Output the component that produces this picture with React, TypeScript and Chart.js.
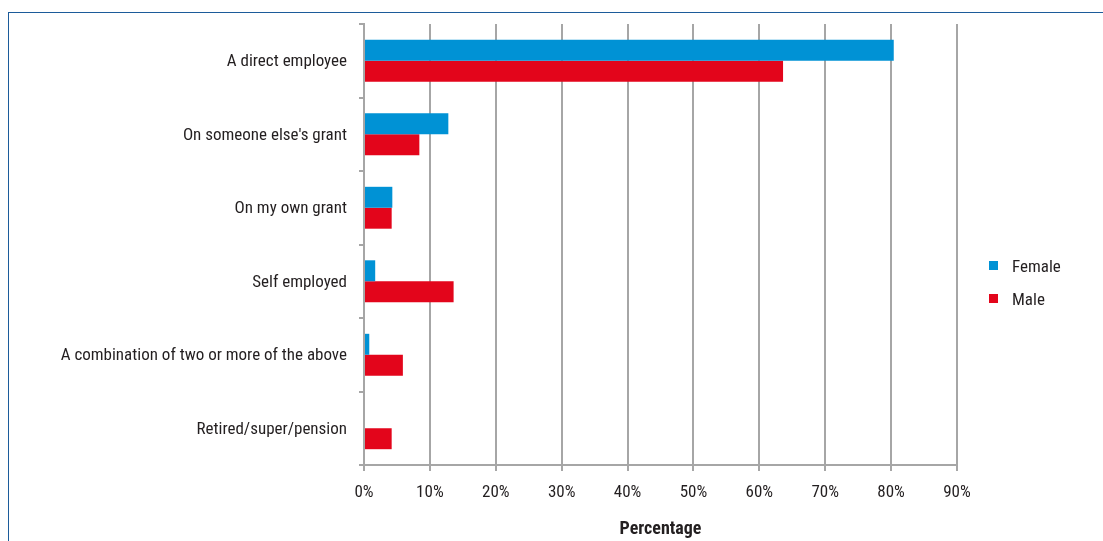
import React, { useEffect, useRef } from "react";
import { Chart, registerables } from "chart.js";

Chart.register(...registerables);

const categories = [
  "A direct employee",
  "On someone else's grant",
  "On my own grant",
  "Self employed",
  "A combination of two or more of the above",
  "Retired/super/pension",
];
const femaleValues = [80.4, 12.8, 4.3, 1.7, 0.8, 0];
const maleValues = [63.6, 8.4, 4.2, 13.6, 5.9, 4.2];
const seriesNames = ["Female", "Male"];
const seriesColors = ["#0092d5", "#e3051b"];
const xTickMax = 90;
const xTickStep = 10;
const xTitle = "Percentage";

const FONT = "'Liberation Sans Narrow', 'Roboto Condensed', 'DejaVu Sans Condensed', sans-serif";
const TEXT = "#231f20";
const GRID = "#a6a6a6";

export default function App() {
  const ref = useRef<HTMLCanvasElement | null>(null);
  useEffect(() => {
    if (!ref.current) return;
    const chart = new Chart(ref.current, {
      type: "bar",
      data: {
        labels: categories,
        datasets: [
          { label: seriesNames[0], data: femaleValues, backgroundColor: seriesColors[0], barPercentage: 1, categoryPercentage: 0.57 },
          { label: seriesNames[1], data: maleValues, backgroundColor: seriesColors[1], barPercentage: 1, categoryPercentage: 0.57 },
        ],
      },
      options: {
        indexAxis: "y",
        responsive: false,
        animation: false,
        devicePixelRatio: 1,
        layout: { padding: { top: 24, right: 146, left: 0, bottom: 0 } },
        plugins: { legend: { display: false }, tooltip: { enabled: false } },
        scales: {
          x: {
            min: 0,
            max: xTickMax,
            afterFit: (s: any) => { s.height = 76; },
            ticks: {
              stepSize: xTickStep,
              callback: (v: any) => v + "%",
              color: TEXT,
              font: { family: FONT, size: 17 },
              padding: 12,
              maxRotation: 0,
            },
            grid: { color: GRID, lineWidth: 2, tickLength: 6, drawTicks: true },
            border: { color: GRID, width: 2 },
            title: {
              display: true,
              text: xTitle,
              color: TEXT,
              font: { family: FONT, size: 18, weight: "bold" },
              padding: { top: 0, bottom: 1 },
            },
          },
          y: {
            afterFit: (s: any) => { s.width = 364; },
            ticks: { color: TEXT, font: { family: FONT, size: 17 }, padding: 12, labelOffset: 1 },
            grid: { color: GRID, lineWidth: 2, drawOnChartArea: false, tickLength: 5, offset: true },
            border: { color: GRID, width: 2 },
          },
        },
      },
    });
    return () => chart.destroy();
  }, []);

  return (
    <div style={{ position: "fixed", left: 0, top: 0, width: 1103, height: 541, overflow: "hidden", background: "#fff" }}>
      <div style={{ position: "absolute", left: 8, top: 12, width: 1300, height: 800, borderLeft: "1.5px solid #1c5b9a", borderTop: "1.5px solid #1c5b9a" }} />
      <canvas ref={ref} width={1103} height={541} style={{ position: "absolute", left: 0, top: 0 }} />
      <div style={{ position: "absolute", left: 989, top: 249, fontFamily: FONT, fontSize: 17, color: TEXT }}>
        {seriesNames.map((n, i) => (
          <div key={n} style={{ display: "flex", alignItems: "center", height: 33 }}>
            <span style={{ display: "inline-block", width: 9, height: 9, background: seriesColors[i], marginRight: 14 }} />
            <span>{n}</span>
          </div>
        ))}
      </div>
    </div>
  );
}
